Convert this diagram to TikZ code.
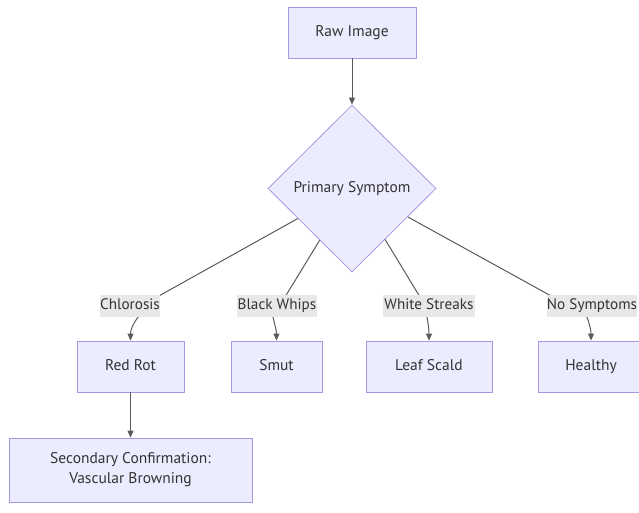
\documentclass[tikz,border=0pt]{standalone}
\usepackage{fontspec}
\setmainfont{PT Sans}
\usetikzlibrary{shapes.geometric,arrows.meta,calc}
\definecolor{boxfill}{HTML}{ECECFF}
\definecolor{boxline}{HTML}{A896E0}
\definecolor{txt}{HTML}{333333}
\definecolor{edgec}{HTML}{5A5A5A}
\definecolor{labfill}{HTML}{E8E8E8}
\tikzset{
  procbox/.style={draw=boxline, fill=boxfill, line width=0.8pt, inner sep=0pt, text=txt, font=\fontsize{15.5}{20}\selectfont, align=center},
  oneline/.style={text height=11pt, text depth=3.5pt},
  decbox/.style={diamond, draw=boxline, fill=boxfill, line width=0.8pt, inner sep=0pt, text=txt, font=\fontsize{15.5}{20}\selectfont, minimum width=168pt, minimum height=167pt},
  elabel/.style={fill=labfill, inner sep=0pt, minimum height=22pt, text height=11pt, text depth=3.5pt, text=txt, font=\fontsize{15.2}{20}\selectfont},
  edge/.style={draw=edgec, line width=1pt},
  arr/.style={edge, -{Triangle[length=7pt,width=6pt]}}
}
\begin{document}
\begin{tikzpicture}[x=1pt,y=1pt]
\useasboundingbox (0,0) rectangle (639,-513);
% nodes
\node[procbox, oneline, minimum width=128pt, minimum height=51pt] (raw) at (352,-32.5) {Raw Image};
\node[decbox] (ps) at (352,-188.5) {Primary Symptom};
\node[procbox, oneline, minimum width=107pt, minimum height=51pt] (rr) at (130.5,-366.5) {Red Rot};
\node[procbox, oneline, minimum width=91pt, minimum height=51pt] (sm) at (276.5,-366.5) {Smut};
\node[procbox, oneline, minimum width=126pt, minimum height=51pt] (ls) at (429,-366.5) {Leaf Scald};
\node[procbox, oneline, minimum width=106pt, minimum height=51pt] (he) at (591,-366.5) {Healthy};
\node[procbox, minimum width=243pt, minimum height=64pt] (sc) at (130.5,-470) {Secondary Confirmation:\\Vascular Browning};
% edge waypoints
\coordinate (a1) at (157,-297);
\coordinate (b1) at (138,-317);
\coordinate (a2) at (285,-297);
\coordinate (b2) at (273,-317);
\coordinate (a3) at (420,-297);
\coordinate (b3) at (427,-317);
\coordinate (a4) at (553,-297);
\coordinate (b4) at (587,-317);
% edges
\draw[arr] (raw.south) -- (ps.north);
\draw[arr] (ps.-151) -- (a1) -- (b1) .. controls (132,-326) and (130.5,-330) .. (rr.north);
\draw[arr] (ps.-122) -- (a2) -- (b2) .. controls (275,-326) and (276.5,-330) .. (sm.north);
\draw[arr] (ps.-57) -- (a3) -- (b3) .. controls (428.5,-326) and (429,-330) .. (ls.north);
\draw[arr] (ps.-27) -- (a4) -- (b4) .. controls (590,-326) and (591,-330) .. (he.north);
\draw[arr] (rr.south) -- (sc.north);
% edge labels
\node[elabel, minimum width=60pt] (l1) at (130,-306) {Chlorosis};
\node[elabel, minimum width=80pt] (l2) at (277,-306) {Black Whips};
\node[elabel, minimum width=92pt] (l3) at (429,-306) {White Streaks};
\node[elabel, minimum width=90pt] (l4) at (592,-306) {No Symptoms};
\end{tikzpicture}
\end{document}
